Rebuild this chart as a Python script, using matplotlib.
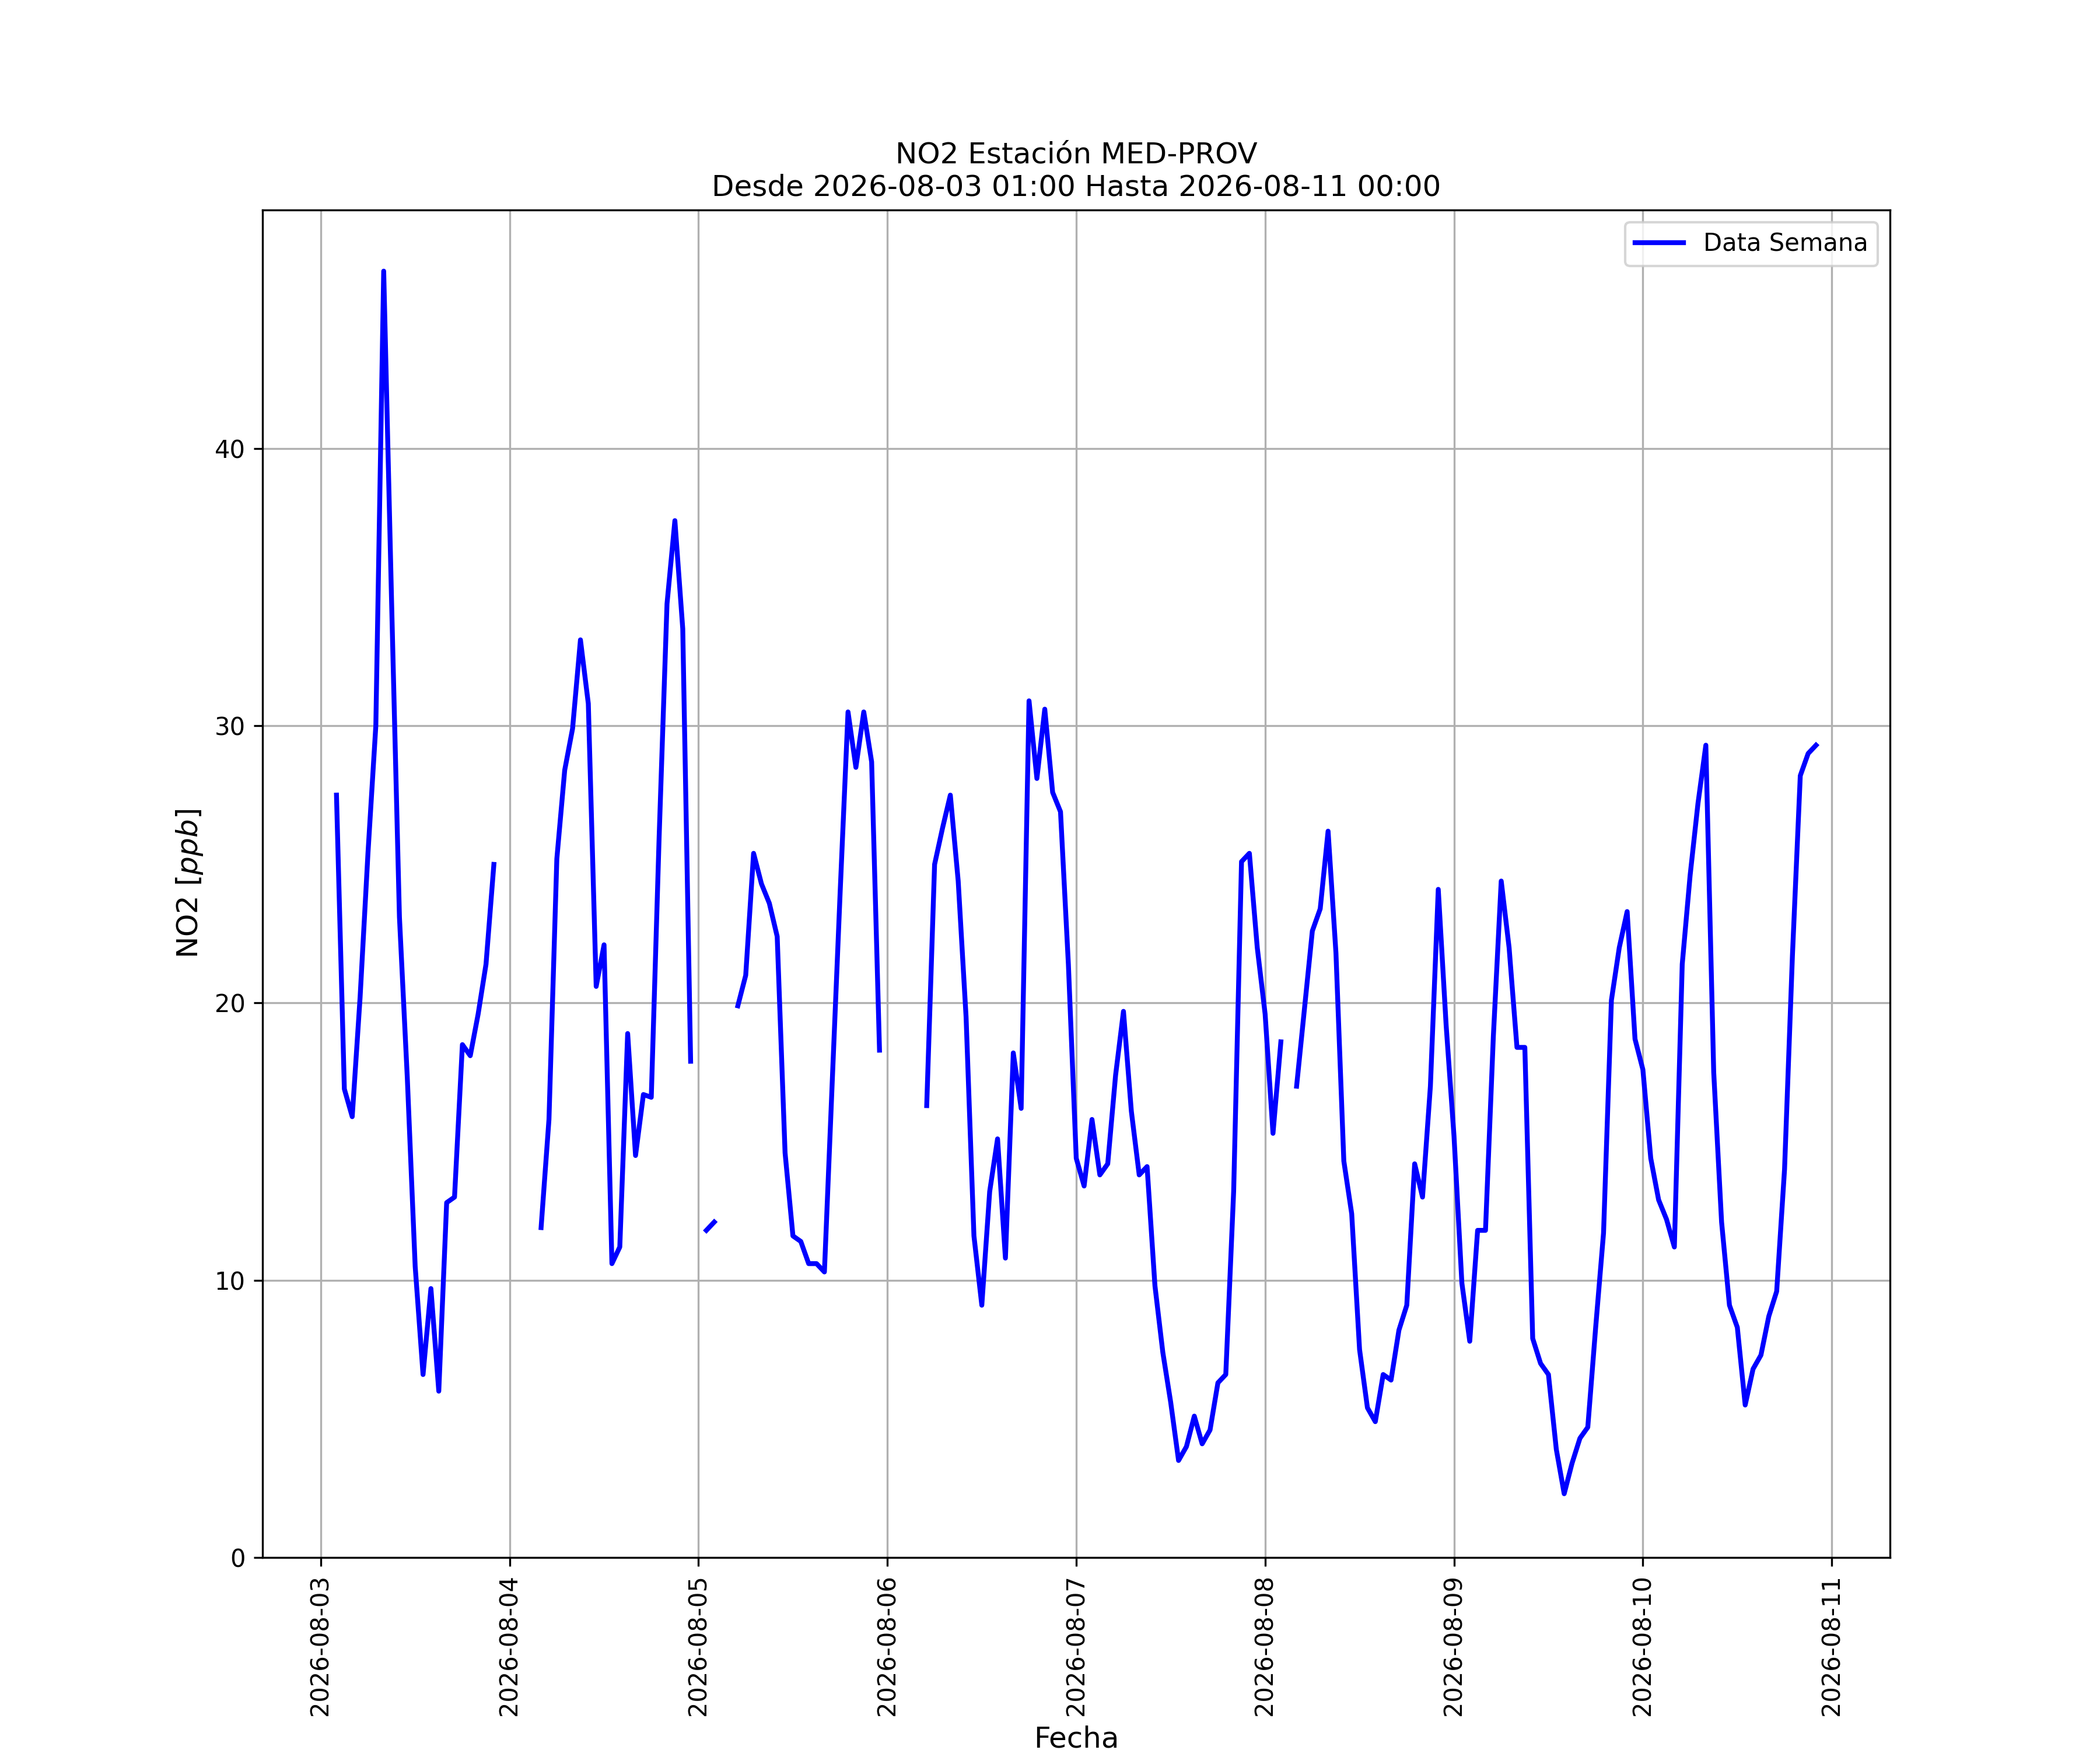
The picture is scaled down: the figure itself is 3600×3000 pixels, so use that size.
import numpy as np
import pandas as pd
import matplotlib
matplotlib.use("Agg")
import matplotlib.pyplot as plt
import matplotlib.dates as mdates

nan = np.nan

# Hourly NO2 values (ppb), hours 00..23 for each day
d0803 = [nan, nan, 27.5, 16.9, 15.9, 20.2, 25.4, 30.0, 46.4, 34.5, 23.1, 17.3,
         10.5, 6.6, 9.7, 6.0, 12.8, 13.0, 18.5, 18.1, 19.6, 21.4, 25.0, nan]
d0804 = [nan, nan, nan, nan, 11.9, 15.8, 25.2, 28.4, 29.9, 33.1, 30.8, 20.6,
         22.1, 10.6, 11.2, 18.9, 14.5, 16.7, 16.6, 26.0, 34.4, 37.4, 33.5, 17.9]
d0805 = [nan, 11.8, 12.1, nan, nan, 19.9, 21.0, 25.4, 24.3, 23.6, 22.4, 14.6,
         11.6, 11.4, 10.6, 10.6, 10.3, 17.2, 24.0, 30.5, 28.5, 30.5, 28.7, 18.3]
d0806 = [nan, nan, nan, nan, nan, 16.3, 25.0, 26.3, 27.5, 24.4, 19.5, 11.6,
         9.1, 13.2, 15.1, 10.8, 18.2, 16.2, 30.9, 28.1, 30.6, 27.6, 26.9, 21.4]
d0807 = [14.4, 13.4, 15.8, 13.8, 14.2, 17.4, 19.7, 16.1, 13.8, 14.1, 9.8, 7.4,
         5.6, 3.5, 4.0, 5.1, 4.1, 4.6, 6.3, 6.6, 13.2, 25.1, 25.4, 22.0]
d0808 = [19.6, 15.3, 18.6, nan, 17.0, 19.8, 22.6, 23.4, 26.2, 21.8, 14.3, 12.4,
         7.5, 5.4, 4.9, 6.6, 6.4, 8.2, 9.1, 14.2, 13.0, 17.0, 24.1, 19.2]
d0809 = [15.2, 9.9, 7.8, 11.8, 11.8, 18.8, 24.4, 22.0, 18.4, 18.4, 7.9, 7.0,
         6.6, 3.9, 2.3, 3.4, 4.3, 4.7, 8.3, 11.7, 20.1, 22.0, 23.3, 18.7]
d0810 = [17.6, 14.4, 12.9, 12.2, 11.2, 21.4, 24.6, 27.2, 29.3, 17.5, 12.1, 9.1,
         8.3, 5.5, 6.8, 7.3, 8.7, 9.6, 14.0, 21.7, 28.2, 29.0, 29.3, nan]
d0811 = [nan]

series_label = "Data Semana"
title_text = "NO2 Estación MED-PROV\nDesde 2026-08-03 01:00 Hasta 2026-08-11 00:00"
xlabel_text = "Fecha"
ylabel_text = "NO2 [$ppb$]"

values = d0803 + d0804 + d0805 + d0806 + d0807 + d0808 + d0809 + d0810 + d0811
idx = pd.date_range("2026-08-03 00:00", periods=len(values), freq="h")
s = pd.Series(values, index=idx).loc["2026-08-03 01:00":"2026-08-11 00:00"]

fig, ax = plt.subplots(figsize=(12, 10), dpi=300)
ax.plot(s.index, s.values, color="blue", linewidth=2, label=series_label)
ax.set_ylim(bottom=0)
ax.xaxis.set_major_locator(mdates.DayLocator())
ax.xaxis.set_major_formatter(mdates.DateFormatter("%Y-%m-%d"))
plt.setp(ax.get_xticklabels(), rotation=90)
ax.grid(True)
ax.set_title(title_text)
ax.set_xlabel(xlabel_text, fontsize=12)
ax.set_ylabel(ylabel_text, fontsize=12)
ax.legend(loc="upper right")
fig.savefig("out.png", dpi=300)
